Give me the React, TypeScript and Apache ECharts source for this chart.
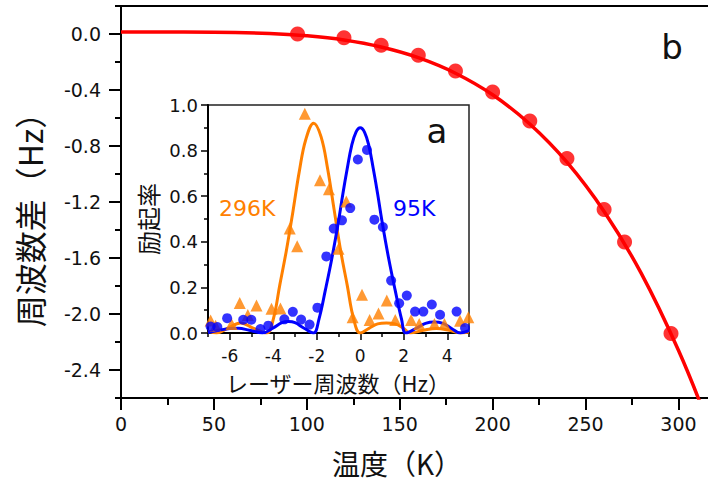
import React, { useEffect, useRef } from "react";
import * as echarts from "echarts";

// ---- main chart (b): frequency shift vs temperature ----
const TEMPS = [95, 120, 140, 160, 180, 200, 220, 240, 260, 271, 296];
const SHIFTS = [0.0, -0.026, -0.081, -0.152, -0.264, -0.414, -0.621, -0.89, -1.254, -1.486, -2.14];
const FIT_T = [0, 50, 80, 100, 120, 140, 160, 180, 200, 220, 240, 260, 280, 300, 315];
const FIT_SHIFT = [0.015, 0.013, 0.004, -0.013, -0.043, -0.093, -0.169, -0.28, -0.434, -0.643, -0.916, -1.268, -1.71, -2.259, -2.749];
const MAIN_X_LABELS = [0, 50, 100, 150, 200, 250, 300];
const MAIN_Y_MAJOR = [0, -0.4, -0.8, -1.2, -1.6, -2.0, -2.4];
const MAIN_Y_MINOR = [0.2, -0.2, -0.6, -1.0, -1.4, -1.8, -2.2, -2.6];

// ---- inset (a): excitation vs laser frequency ----
const INSET_X_MAJOR = [-6, -4, -2, 0, 2, 4];
const INSET_X_MINOR = [-7, -5, -3, -1, 1, 3, 5];

const ORANGE_FIT_X = [-7, -6.6, -6.1, -5.5, -4.9, -4.3, -4.0, -3.7, -3.4, -3.1, -2.8, -2.5, -2.14, -1.8, -1.5, -1.2, -0.9, -0.6, -0.3, 0, 0.4, 0.8, 1.2, 1.6, 2.0, 2.3, 2.9, 3.5, 4.1, 4.6, 5];
const ORANGE_FIT_Y = [0.008, 0.0, 0.02, 0.044, 0.02, 0.0, 0.06, 0.21, 0.36, 0.53, 0.71, 0.85, 0.92, 0.86, 0.72, 0.54, 0.36, 0.21, 0.06, 0.0, 0.02, 0.04, 0.044, 0.04, 0.02, 0.0, 0.012, 0.02, 0.012, 0.0, 0.004];

const BLUE_FIT_X = [-7, -6.5, -6, -5.6, -5.1, -4.5, -4.0, -3.6, -3.3, -3.0, -2.6, -2.15, -1.9, -1.6, -1.3, -1.0, -0.8, -0.6, -0.4, -0.2, 0, 0.2, 0.4, 0.6, 0.8, 1.0, 1.3, 1.6, 1.9, 2.1, 2.6, 3.0, 3.4, 3.8, 4.2, 4.6, 5.0];
const BLUE_FIT_Y = [0.002, 0.012, 0.02, 0.021, 0.012, 0.0, 0.022, 0.045, 0.05, 0.045, 0.022, 0.0, 0.06, 0.19, 0.33, 0.49, 0.61, 0.72, 0.82, 0.88, 0.9, 0.88, 0.82, 0.72, 0.61, 0.49, 0.33, 0.19, 0.06, 0.0, 0.022, 0.042, 0.048, 0.042, 0.02, 0.0, 0.01];

const ORANGE_PTS_X = [-6.88, -6.65, -5.92, -5.54, -5.17, -4.77, -4.08, -3.67, -3.24, -2.9, -2.55, -1.85, -1.44, -1.0, -0.64, -0.35, 0.08, 0.43, 0.84, 1.22, 1.61, 2.34, 2.71, 3.41, 3.87, 4.59, 4.97];
const ORANGE_PTS_Y = [0.055, 0.032, 0.04, 0.132, 0.079, 0.121, 0.106, 0.108, 0.458, 0.381, 0.962, 0.67, 0.63, 0.369, 0.577, 0.069, 0.168, 0.057, 0.086, 0.142, 0.057, 0.057, 0.04, 0.04, 0.04, 0.054, 0.069];

const BLUE_PTS_X = [-6.88, -6.57, -6.12, -5.38, -5.01, -4.59, -4.23, -3.49, -3.1, -2.72, -2.33, -1.97, -1.56, -1.22, -0.84, -0.46, -0.11, 0.31, 0.65, 1.04, 1.42, 1.79, 2.14, 2.52, 2.9, 3.29, 3.67, 4.43, 4.82];
const BLUE_PTS_Y = [0.028, 0.026, 0.065, 0.058, 0.058, 0.017, 0.032, 0.06, 0.093, 0.059, 0.037, 0.111, 0.336, 0.458, 0.494, 0.548, 0.761, 0.803, 0.497, 0.465, 0.23, 0.13, 0.164, 0.094, 0.094, 0.125, 0.08, 0.094, 0.022];

const RED = "#ff0000";
const ORANGE = "#ff8000";
const BLUE = "#0000ff";
const NUM_FONT = "DejaVu Sans";
const CJK_FONT = '"Noto Sans CJK JP"';

const pairs = (xs: number[], ys: number[]) => xs.map((x, i) => [x, ys[i]]);

function buildOption(): any {
  const axisLine = { show: true, onZero: false, lineStyle: { color: "#000", width: 2 } };
  const noLine = { show: false, onZero: false };
  const numLabel = { fontSize: 19, fontFamily: NUM_FONT, color: "#111" };
  const center = { align: "center", verticalAlign: "middle", textAlign: "center", textVerticalAlign: "middle" };
  const left = { align: "left", verticalAlign: "middle", textAlign: "left", textVerticalAlign: "middle" };
  return {
    animation: false,
    backgroundColor: "#fff",
    grid: [
      { left: 121, top: 6, width: 594.6, height: 392, show: true, borderColor: "#000", borderWidth: 2, backgroundColor: "transparent" },
      { left: 208, top: 105, width: 261, height: 228, show: true, borderColor: "#222", borderWidth: 1.5, backgroundColor: "transparent" },
    ],
    xAxis: [
      {
        type: "value", gridIndex: 0, position: "bottom", min: 0, max: 320, interval: 50,
        axisLine, splitLine: { show: false },
        axisTick: { show: true, length: 12, lineStyle: { color: "#000", width: 2 } },
        minorTick: { show: true, splitNumber: 2, length: 7, lineStyle: { color: "#000", width: 2 } },
        minorSplitLine: { show: false },
        axisLabel: { ...numLabel, margin: 16, customValues: MAIN_X_LABELS },
      },
      {
        type: "value", gridIndex: 1, position: "bottom", min: -7, max: 5,
        axisLine, splitLine: { show: false },
        axisTick: { show: true, length: 7, customValues: INSET_X_MAJOR, lineStyle: { color: "#000", width: 1.5 } },
        axisLabel: { ...numLabel, fontSize: 17, margin: 14, customValues: INSET_X_MAJOR },
      },
      {
        type: "value", gridIndex: 1, position: "bottom", min: -7, max: 5,
        axisLine: noLine, splitLine: { show: false },
        axisTick: { show: true, length: 4, customValues: INSET_X_MINOR, lineStyle: { color: "#000", width: 1.5 } },
        axisLabel: { show: false },
      },
    ],
    yAxis: [
      {
        type: "value", gridIndex: 0, position: "left", min: -2.6, max: 0.2,
        axisLine, splitLine: { show: false },
        axisTick: { show: true, length: 12, customValues: MAIN_Y_MAJOR, lineStyle: { color: "#000", width: 2 } },
        axisLabel: { ...numLabel, margin: 20, customValues: MAIN_Y_MAJOR, formatter: (v: number) => v.toFixed(1) },
      },
      {
        type: "value", gridIndex: 0, position: "left", min: -2.6, max: 0.2,
        axisLine: noLine, splitLine: { show: false },
        axisTick: { show: true, length: 6, customValues: MAIN_Y_MINOR, lineStyle: { color: "#000", width: 2 } },
        axisLabel: { show: false },
      },
      {
        type: "value", gridIndex: 1, position: "left", min: 0, max: 1, interval: 0.2,
        axisLine, splitLine: { show: false },
        axisTick: { show: true, length: 7, lineStyle: { color: "#000", width: 1.5 } },
        minorTick: { show: true, splitNumber: 2, length: 4, lineStyle: { color: "#000", width: 1.5 } },
        minorSplitLine: { show: false },
        axisLabel: { ...numLabel, fontSize: 18, margin: 10, formatter: (v: number) => v.toFixed(1) },
      },
    ],
    series: [
      {
        type: "line", xAxisIndex: 0, yAxisIndex: 0, data: pairs(FIT_T, FIT_SHIFT),
        smooth: 0.4, showSymbol: false, lineStyle: { color: RED, width: 3.5 }, z: 3,
      },
      {
        type: "scatter", xAxisIndex: 0, yAxisIndex: 0, data: pairs(TEMPS, SHIFTS),
        symbol: "circle", symbolSize: 15, itemStyle: { color: RED }, z: 4,
      },
      {
        type: "line", xAxisIndex: 1, yAxisIndex: 2, data: pairs(ORANGE_FIT_X, ORANGE_FIT_Y),
        smooth: 0.4, showSymbol: false, lineStyle: { color: ORANGE, width: 3 }, z: 3,
      },
      {
        type: "line", xAxisIndex: 1, yAxisIndex: 2, data: pairs(BLUE_FIT_X, BLUE_FIT_Y),
        smooth: 0.4, showSymbol: false, lineStyle: { color: BLUE, width: 3 }, z: 3,
      },
      {
        type: "scatter", xAxisIndex: 1, yAxisIndex: 2, data: pairs(ORANGE_PTS_X, ORANGE_PTS_Y),
        symbol: "triangle", symbolSize: 12, itemStyle: { color: ORANGE }, z: 4,
      },
      {
        type: "scatter", xAxisIndex: 1, yAxisIndex: 2, data: pairs(BLUE_PTS_X, BLUE_PTS_Y),
        symbol: "circle", symbolSize: 10, itemStyle: { color: BLUE }, z: 5,
      },
    ],
    graphic: [
      { type: "text", x: 29, y: 212, rotation: Math.PI / 2, style: { text: "周波数差（Hz）", font: `32px ${CJK_FONT}`, fill: "#111", ...center } },
      { type: "text", x: 397, y: 463, style: { text: "温度（K）", font: `28px ${CJK_FONT}`, fill: "#111", ...center } },
      { type: "text", x: 338, y: 382, style: { text: "レーザー周波数（Hz）", font: `22px ${CJK_FONT}`, fill: "#111", ...center } },
      { type: "text", x: 147, y: 219, rotation: Math.PI / 2, style: { text: "励起率", font: `24px ${CJK_FONT}`, fill: "#111", ...center } },
      { type: "text", x: 219, y: 208, style: { text: "296K", font: `22px ${NUM_FONT}`, fill: ORANGE, ...left } },
      { type: "text", x: 393, y: 208, style: { text: "95K", font: `22px ${NUM_FONT}`, fill: BLUE, ...left } },
      { type: "text", x: 437, y: 131, style: { text: "a", font: `34px ${NUM_FONT}`, fill: "#111", ...center } },
      { type: "text", x: 672, y: 47, style: { text: "b", font: `34px ${NUM_FONT}`, fill: "#111", ...center } },
    ],
  };
}

export default function App() {
  const ref = useRef<HTMLDivElement>(null);
  useEffect(() => {
    if (!ref.current) return;
    const chart = echarts.init(ref.current, null, { renderer: "svg", width: 730, height: 484 });
    chart.setOption(buildOption());
    return () => chart.dispose();
  }, []);
  return (
    <div
      ref={ref}
      style={{ position: "fixed", left: 0, top: 0, width: 730, height: 484, background: "#fff" }}
    />
  );
}
